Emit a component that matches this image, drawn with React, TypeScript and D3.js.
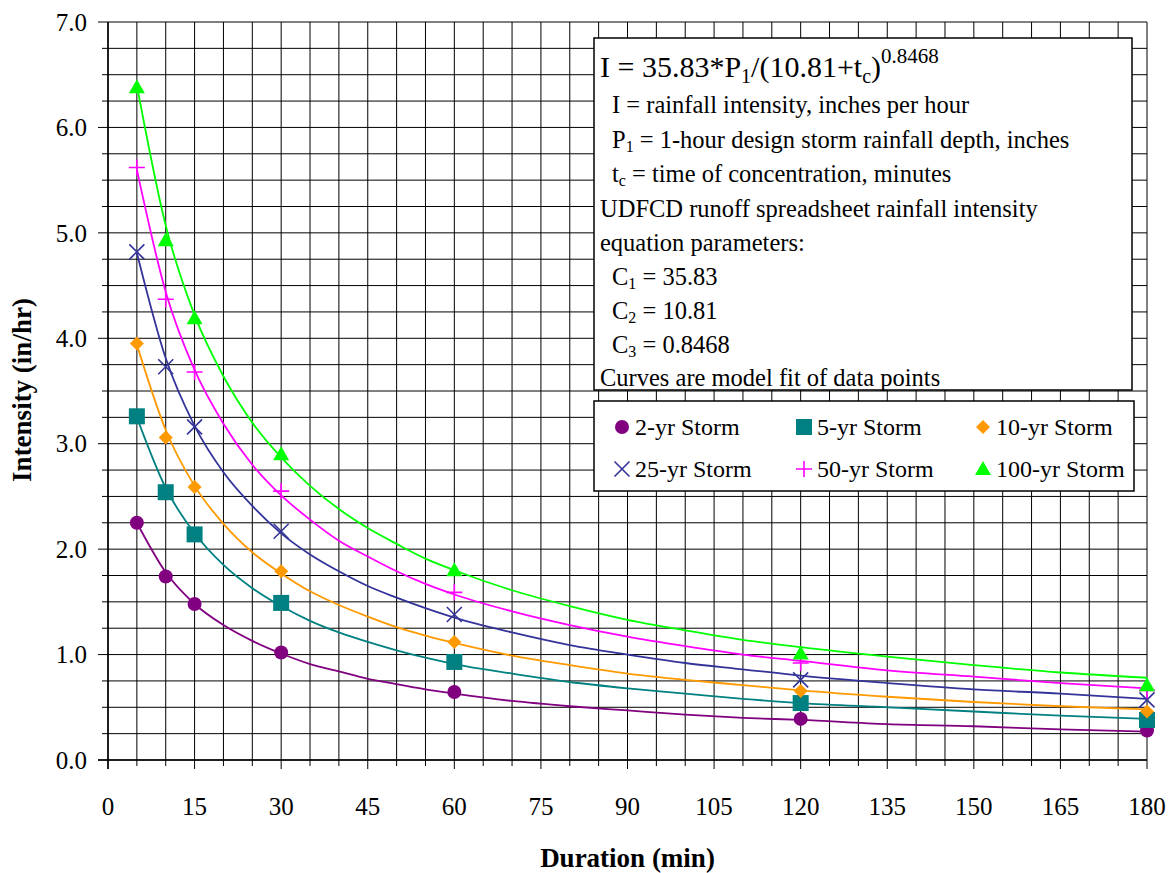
import React from "react";
import * as d3 from "d3";

// ---- Data ----
const durations = [5, 10, 15, 30, 60, 120, 180];
const stormNames = ["2-yr Storm", "5-yr Storm", "10-yr Storm", "25-yr Storm", "50-yr Storm", "100-yr Storm"];
const obs2yr = [2.25, 1.74, 1.48, 1.02, 0.645, 0.39, 0.28];
const obs5yr = [3.26, 2.54, 2.14, 1.49, 0.93, 0.54, 0.38];
const obs10yr = [3.95, 3.06, 2.59, 1.79, 1.12, 0.655, 0.46];
const obs25yr = [4.82, 3.73, 3.16, 2.17, 1.38, 0.76, 0.57];
const obs50yr = [5.62, 4.37, 3.68, 2.55, 1.59, 0.92, 0.66];
const obs100yr = [6.38, 4.93, 4.19, 2.9, 1.8, 1.01, 0.71];

// model-fit curve samples
const curveT = [5, 10, 15, 20, 25, 30, 35, 40, 45, 50, 55, 60, 70, 80, 90, 100, 110, 120, 135, 150, 165, 180];
const fit2yr = [2.25, 1.78, 1.48, 1.28, 1.13, 1.01, 0.91, 0.84, 0.77, 0.72, 0.67, 0.63, 0.56, 0.51, 0.47, 0.43, 0.4, 0.38, 0.34, 0.32, 0.29, 0.27];
const fit5yr = [3.25, 2.58, 2.15, 1.85, 1.63, 1.46, 1.32, 1.21, 1.12, 1.04, 0.97, 0.91, 0.82, 0.74, 0.68, 0.63, 0.58, 0.54, 0.5, 0.46, 0.42, 0.39];
const fit10yr = [3.94, 3.13, 2.6, 2.24, 1.97, 1.77, 1.6, 1.47, 1.36, 1.26, 1.18, 1.11, 0.99, 0.9, 0.82, 0.76, 0.71, 0.66, 0.6, 0.55, 0.51, 0.48];
const fit25yr = [4.81, 3.81, 3.17, 2.73, 2.41, 2.15, 1.95, 1.79, 1.65, 1.54, 1.44, 1.35, 1.21, 1.09, 1.0, 0.92, 0.86, 0.8, 0.73, 0.67, 0.63, 0.58];
const fit50yr = [5.6, 4.44, 3.7, 3.19, 2.8, 2.51, 2.28, 2.08, 1.93, 1.79, 1.67, 1.57, 1.41, 1.28, 1.17, 1.08, 1.0, 0.94, 0.85, 0.79, 0.73, 0.68];
const fit100yr = [6.4, 5.07, 4.22, 3.64, 3.2, 2.87, 2.6, 2.38, 2.2, 2.05, 1.91, 1.8, 1.61, 1.46, 1.33, 1.23, 1.14, 1.07, 0.98, 0.9, 0.83, 0.78];

const xTickLabels = [0, 15, 30, 45, 60, 75, 90, 105, 120, 135, 150, 165, 180];
const yTickLabels = [0, 1, 2, 3, 4, 5, 6, 7];

const observed = [obs2yr, obs5yr, obs10yr, obs25yr, obs50yr, obs100yr];
const fitted = [fit2yr, fit5yr, fit10yr, fit25yr, fit50yr, fit100yr];
const colors = ["#800080", "#008080", "#FF9900", "#333399", "#FF00FF", "#00FF00"];
const markerKinds = ["circle", "square", "diamond", "x", "plus", "triangle"];

const FONT = "'Liberation Serif', 'Times New Roman', serif";

function Marker({ kind, x, y, color }: { kind: string; x: number; y: number; color: string }) {
  switch (kind) {
    case "circle":
      return <circle cx={x} cy={y} r={7} fill={color} />;
    case "square":
      return <rect x={x - 8} y={y - 8} width={16} height={16} fill={color} />;
    case "diamond":
      return <path d={`M${x},${y - 7}L${x + 7},${y}L${x},${y + 7}L${x - 7},${y}Z`} fill={color} />;
    case "x":
      return (
        <path d={`M${x - 7.5},${y - 7.5}L${x + 7.5},${y + 7.5}M${x - 7.5},${y + 7.5}L${x + 7.5},${y - 7.5}`} stroke={color} strokeWidth={1.6} fill="none" />
      );
    case "plus":
      return <path d={`M${x - 8},${y}L${x + 8},${y}M${x},${y - 8}L${x},${y + 8}`} stroke={color} strokeWidth={1.6} fill="none" />;
    case "triangle":
      return <path d={`M${x},${y - 8}L${x + 8},${y + 6}L${x - 8},${y + 6}Z`} fill={color} />;
    default:
      return null;
  }
}

export default function App() {
  const x = d3.scaleLinear().domain([0, 180]).range([108, 1147]);
  const y = d3.scaleLinear().domain([0, 7]).range([760, 22]);

  const vGrid = d3.range(0, 181, 5);
  const hGrid = d3.range(0, 7.001, 0.25);

  const line = d3
    .line<[number, number]>()
    .x((d) => x(d[0]))
    .y((d) => y(d[1]))
    .curve(d3.curveMonotoneX);

  const boxX = 594, boxY = 38, boxW = 538, boxH = 352;
  const legX = 594, legY = 401, legW = 540, legH = 90;
  const legCols = [622, 804, 983];
  const legRows = [427, 469];

  const txt = { fontFamily: FONT, fill: "#000" } as const;
  const bodySize = 24.5;

  return (
    <svg width={1172} height={873} style={{ position: "absolute", left: 0, top: 0, background: "#fff" }}>
      <rect width={1172} height={873} fill="#fff" />
      {/* grid */}
      <g stroke="#000" strokeWidth={1}>
        {vGrid.map((v) => (
          <line key={"v" + v} x1={x(v)} x2={x(v)} y1={y(7)} y2={v % 15 === 0 ? 769 : 766} />
        ))}
        {hGrid.map((v) => (
          <line key={"h" + v} x1={Number.isInteger(v) ? 98 : 102} x2={x(180)} y1={y(v)} y2={y(v)} />
        ))}
      </g>
      {/* axis lines */}
      <line x1={x(0)} x2={x(0)} y1={y(7)} y2={769} stroke="#000" strokeWidth={1.5} />
      <line x1={98} x2={x(180)} y1={y(0)} y2={y(0)} stroke="#000" strokeWidth={1.5} />

      {/* y tick labels */}
      {yTickLabels.map((v) => (
        <text key={"yl" + v} x={87} y={y(v)} dy="0.35em" textAnchor="end" fontSize={25} {...txt}>
          {d3.format(".1f")(v)}
        </text>
      ))}
      {/* x tick labels */}
      {xTickLabels.map((v) => (
        <text key={"xl" + v} x={x(v)} y={815} textAnchor="middle" fontSize={25} {...txt}>
          {v}
        </text>
      ))}

      {/* axis titles */}
      <text x={x(90)} y={867} textAnchor="middle" fontSize={27} fontWeight="bold" {...txt}>
        Duration (min)
      </text>
      <text transform="translate(31,390) rotate(-90)" textAnchor="middle" fontSize={27} fontWeight="bold" {...txt}>
        Intensity (in/hr)
      </text>

      {/* curves */}
      {fitted.map((vals, i) => (
        <path
          key={"c" + i}
          d={line(curveT.map((t, j) => [t, vals[j]] as [number, number])) || ""}
          fill="none"
          stroke={colors[i]}
          strokeWidth={1.8}
        />
      ))}
      {/* markers */}
      {observed.map((vals, i) =>
        vals.map((v, j) => <Marker key={`m${i}-${j}`} kind={markerKinds[i]} x={x(durations[j])} y={y(v)} color={colors[i]} />)
      )}

      {/* equation box */}
      <rect x={boxX} y={boxY} width={boxW} height={boxH} fill="#fff" stroke="#000" strokeWidth={1.5} />
      <g {...txt}>
        <text x={600} y={77} fontSize={30} {...txt}>
          I = 35.83*P<tspan dy={6} fontSize={20}>1</tspan>
          <tspan dy={-6}>/(10.81+t</tspan>
          <tspan dy={6} fontSize={20}>c</tspan>
          <tspan dy={-6}>)</tspan>
          <tspan dy={-14} fontSize={21}>0.8468</tspan>
        </text>
        <text x={612} y={113} fontSize={bodySize} {...txt}>I = rainfall intensity, inches per hour</text>
        <text x={612} y={148} fontSize={bodySize} {...txt}>
          P<tspan dy={4} fontSize={16}>1</tspan>
          <tspan dy={-4}> = 1-hour design storm rainfall depth, inches</tspan>
        </text>
        <text x={612} y={182} fontSize={bodySize} {...txt}>
          t<tspan dy={4} fontSize={16}>c</tspan>
          <tspan dy={-4}> = time of concentration, minutes</tspan>
        </text>
        <text x={600} y={217} fontSize={bodySize} {...txt}>UDFCD runoff spreadsheet rainfall intensity</text>
        <text x={600} y={251} fontSize={bodySize} {...txt}>equation parameters:</text>
        <text x={612} y={285} fontSize={bodySize} {...txt}>
          C<tspan dy={4} fontSize={16}>1</tspan>
          <tspan dy={-4}> = 35.83</tspan>
        </text>
        <text x={612} y={319} fontSize={bodySize} {...txt}>
          C<tspan dy={4} fontSize={16}>2</tspan>
          <tspan dy={-4}> = 10.81</tspan>
        </text>
        <text x={612} y={353} fontSize={bodySize} {...txt}>
          C<tspan dy={4} fontSize={16}>3</tspan>
          <tspan dy={-4}> = 0.8468</tspan>
        </text>
        <text x={600} y={386} fontSize={bodySize} {...txt}>Curves are model fit of data points</text>
      </g>

      {/* legend */}
      <rect x={legX} y={legY} width={legW} height={legH} fill="#fff" stroke="#000" strokeWidth={1.5} />
      {stormNames.map((name, i) => {
        const cx = legCols[i % 3];
        const cy = legRows[Math.floor(i / 3)];
        return (
          <g key={"lg" + i}>
            <Marker kind={markerKinds[i]} x={cx} y={cy} color={colors[i]} />
            <text x={cx + 13} y={cy} dy="0.35em" fontSize={24} {...txt}>
              {name}
            </text>
          </g>
        );
      })}
    </svg>
  );
}
